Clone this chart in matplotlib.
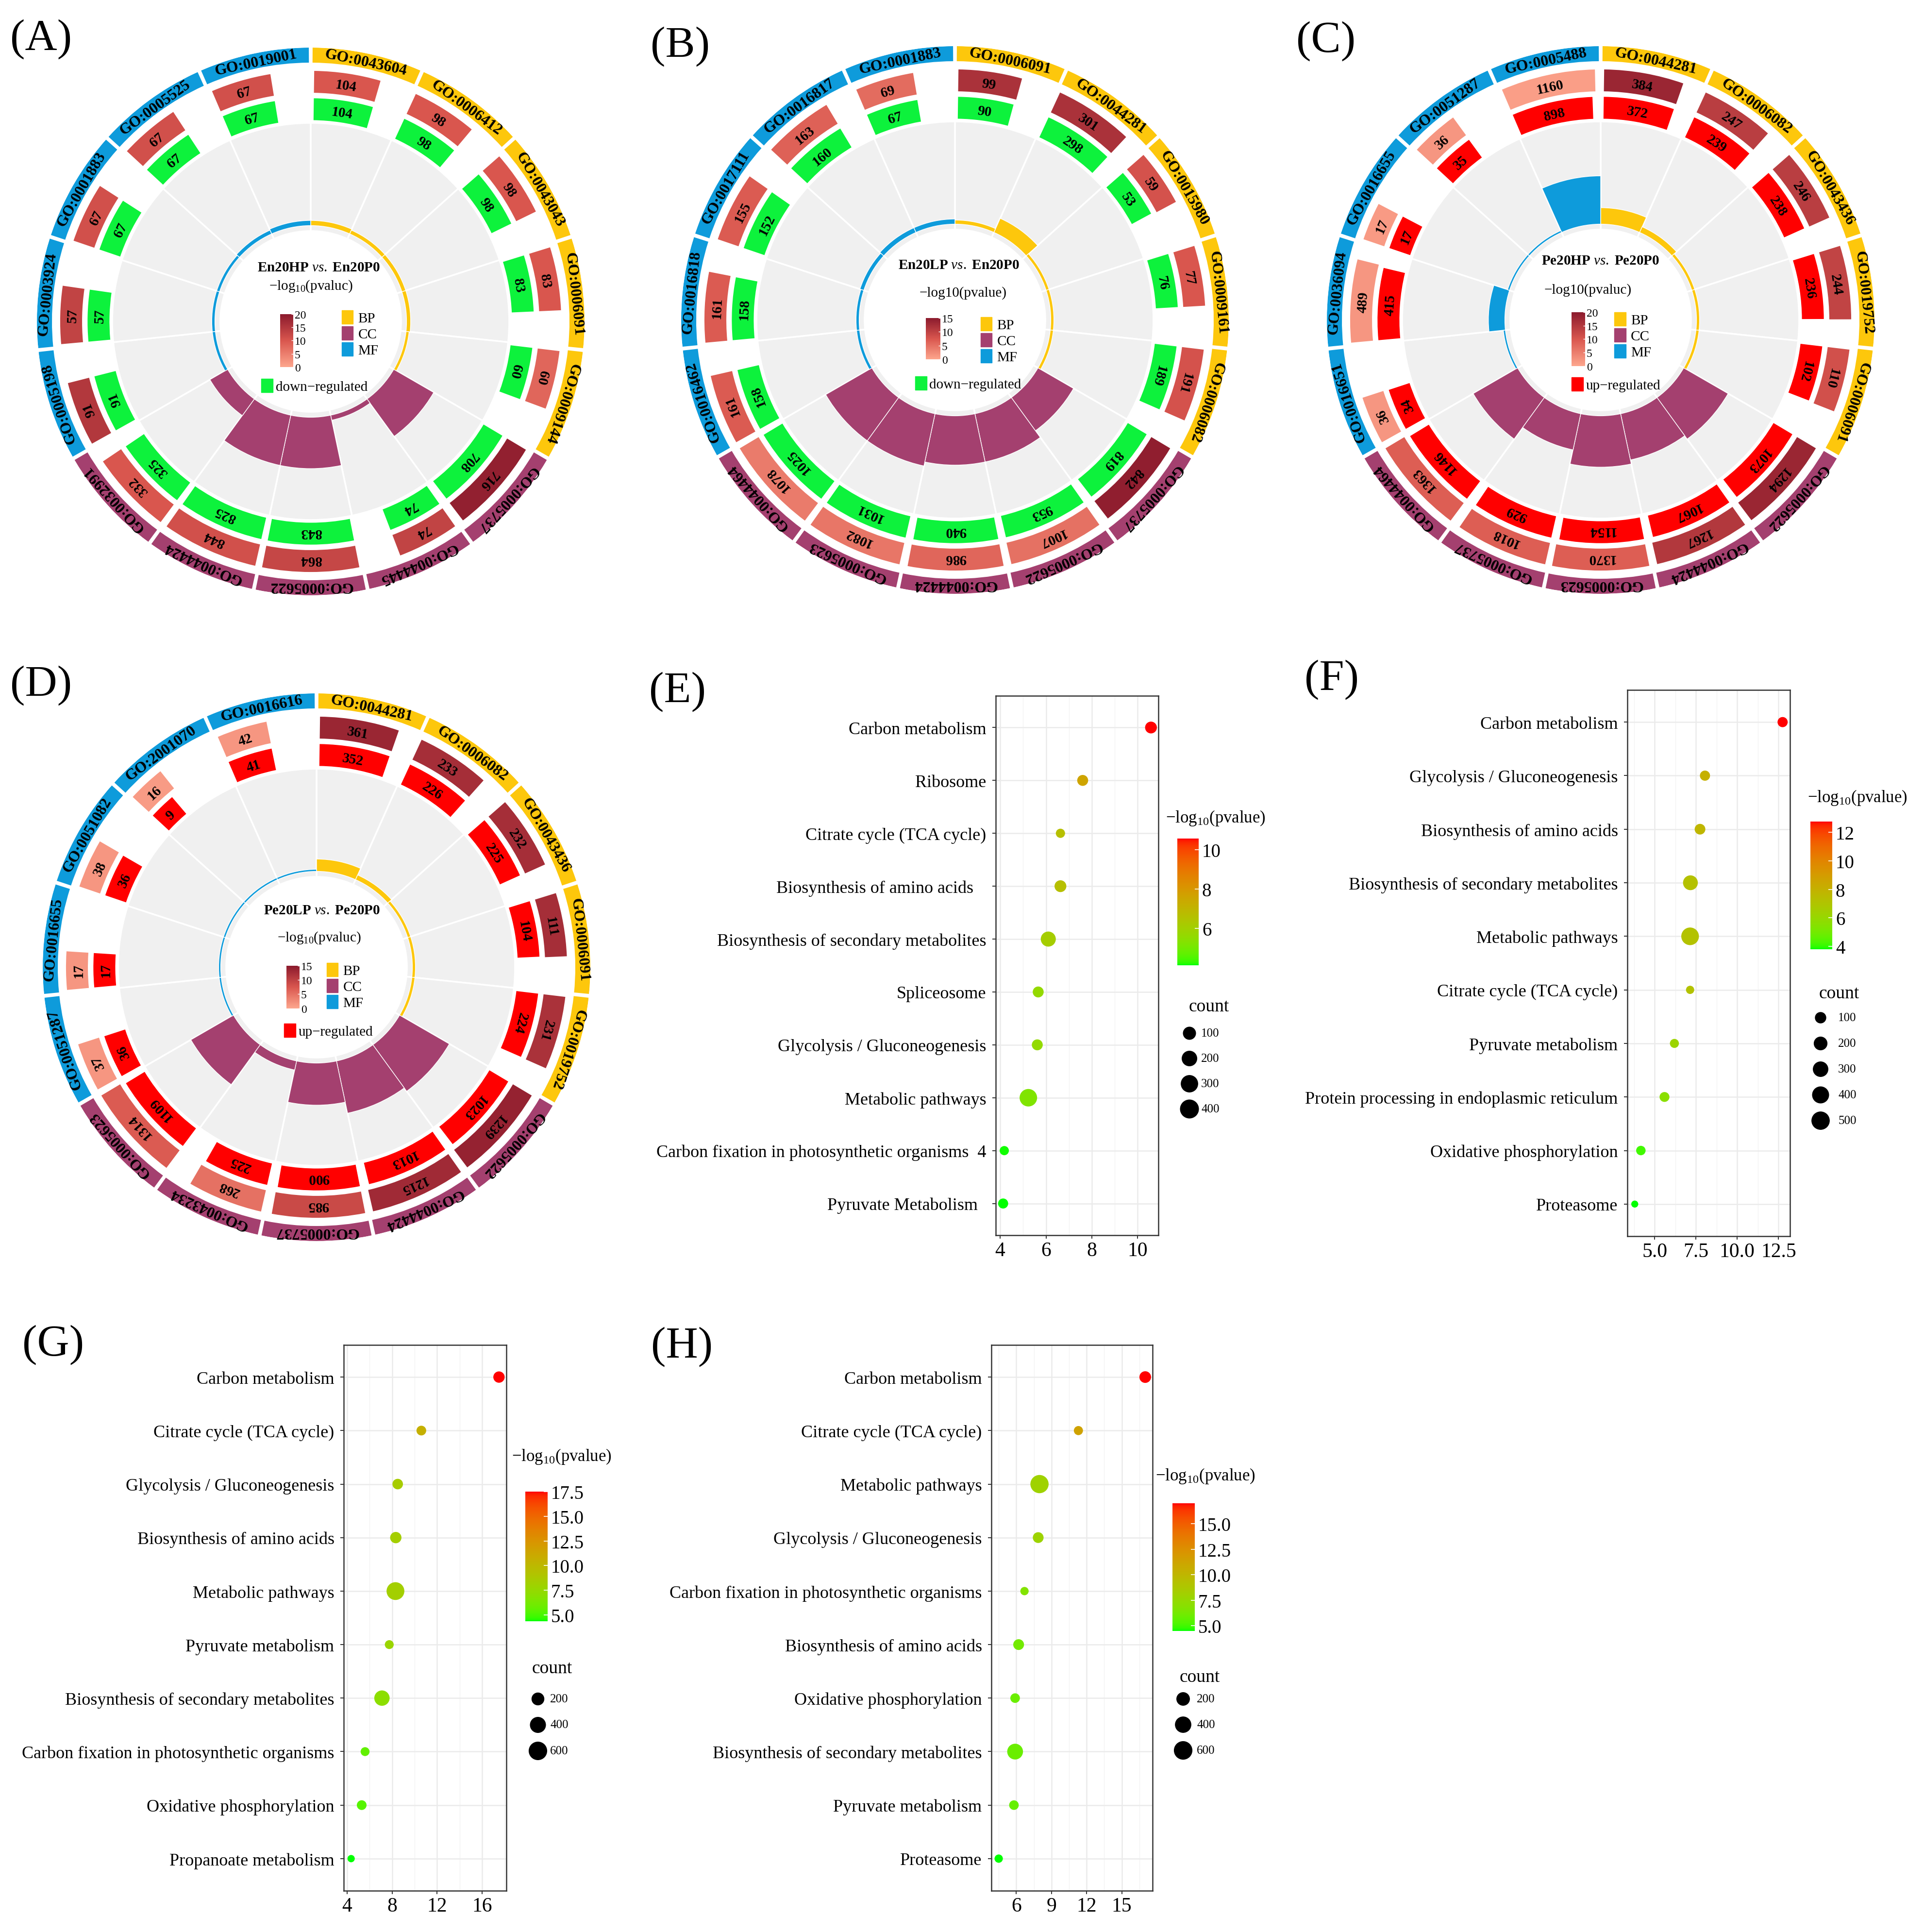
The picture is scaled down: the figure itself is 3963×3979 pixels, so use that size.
import numpy as np
import matplotlib
matplotlib.use("Agg")
import matplotlib.pyplot as plt
from matplotlib.colors import LinearSegmentedColormap, ListedColormap, Normalize
from matplotlib.cm import ScalarMappable
from matplotlib.patches import Patch

FIG_W, FIG_H, DPI = 3963, 3980, 100

plt.rcParams["font.family"] = ["Liberation Serif", "DejaVu Serif"]
plt.rcParams["mathtext.fontset"] = "custom"
plt.rcParams["mathtext.rm"] = "Liberation Serif"
plt.rcParams["mathtext.it"] = "Liberation Serif:italic"
plt.rcParams["mathtext.bf"] = "Liberation Serif:bold"

# ---------------- GO circle data (sectors clockwise from 12 o'clock) ----------------
CATEGORY = ["BP"] * 5 + ["CC"] * 5 + ["MF"] * 5

A_terms = ["GO:0043604", "GO:0006412", "GO:0043043", "GO:0006091", "GO:0009144",
           "GO:0005737", "GO:0044445", "GO:0005622", "GO:0044424", "GO:0032991",
           "GO:0005198", "GO:0003924", "GO:0001883", "GO:0005525", "GO:0019001"]
A_total = [104, 98, 98, 83, 60, 716, 74, 864, 844, 332, 91, 57, 67, 67, 67]
A_diff = [104, 98, 98, 83, 60, 708, 74, 843, 825, 325, 91, 57, 67, 67, 67]
A_logp = [10, 10, 10, 10, 8, 19, 13, 12.5, 11, 10, 15, 13, 11, 11, 11]
A_rich = [0.05, 0.04, 0.04, 0.04, 0.03, 0.45, 0.05, 0.5, 0.5, 0.2, 0.03, 0.03, 0.03, 0.04, 0.05]

B_terms = ["GO:0006091", "GO:0044281", "GO:0015980", "GO:0009161", "GO:0006082",
           "GO:0005737", "GO:0005622", "GO:0044424", "GO:0005623", "GO:0044464",
           "GO:0016462", "GO:0016818", "GO:0017111", "GO:0016817", "GO:0001883"]
B_total = [99, 301, 59, 77, 191, 842, 1007, 986, 1082, 1078, 161, 161, 155, 163, 69]
B_diff = [90, 298, 53, 76, 189, 819, 953, 940, 1031, 1025, 158, 158, 152, 160, 67]
B_logp = [12, 12, 8, 7.5, 8, 14.5, 5, 6, 4.5, 4, 7, 7, 7, 6.5, 5.5]
B_rich = [0.04, 0.15, 0.03, 0.03, 0.03, 0.4, 0.48, 0.48, 0.52, 0.52, 0.03, 0.03, 0.04, 0.05, 0.05]

C_terms = ["GO:0044281", "GO:0006082", "GO:0043436", "GO:0019752", "GO:0006091",
           "GO:0005622", "GO:0044424", "GO:0005623", "GO:0005737", "GO:0044464",
           "GO:0016651", "GO:0036094", "GO:0016655", "GO:0051287", "GO:0005488"]
C_total = [384, 247, 246, 244, 110, 1294, 1267, 1370, 1018, 1363, 36, 489, 17, 36, 1160]
C_diff = [372, 239, 238, 236, 102, 1073, 1067, 1154, 929, 1146, 34, 415, 17, 35, 898]
C_logp = [18, 14, 14, 13, 11, 18, 15, 9, 9, 9, 2, 2, 1.5, 2, 1]
C_rich = [0.16, 0.06, 0.03, 0.03, 0.03, 0.5, 0.46, 0.5, 0.36, 0.5, 0.02, 0.16, 0.02, 0.02, 0.47]

D_terms = ["GO:0044281", "GO:0006082", "GO:0043436", "GO:0006091", "GO:0019752",
           "GO:0005622", "GO:0044424", "GO:0005737", "GO:0043234", "GO:0005623",
           "GO:0051287", "GO:0016655", "GO:0051082", "GO:2001070", "GO:0016616"]
D_total = [361, 233, 232, 111, 231, 1239, 1215, 985, 268, 1314, 37, 17, 38, 16, 42]
D_diff = [352, 226, 225, 104, 224, 1023, 1013, 900, 225, 1109, 36, 17, 36, 9, 41]
D_logp = [13.5, 12.5, 12.5, 12.5, 12, 14, 13, 9, 5, 7, 1.5, 1.5, 1.5, 1, 1.5]
D_rich = [0.12, 0.05, 0.03, 0.03, 0.03, 0.56, 0.52, 0.41, 0.09, 0.48, 0.02, 0.02, 0.02, 0.02, 0.02]

# ---------------- KEGG bubble data ----------------
E_terms = ["Carbon metabolism", "Ribosome", "Citrate cycle (TCA cycle)",
           "Biosynthesis of amino acids   ", "Biosynthesis of secondary metabolites",
           "Spliceosome", "Glycolysis / Gluconeogenesis", "Metabolic pathways",
           "Carbon fixation in photosynthetic organisms  4", "Pyruvate Metabolism  "]
E_logp = [10.58, 7.6, 6.63, 6.63, 6.1, 5.66, 5.62, 5.23, 4.18, 4.13]
E_count = [80, 55, 20, 80, 210, 55, 55, 350, 20, 35]

F_terms = ["Carbon metabolism", "Glycolysis / Gluconeogenesis", "Biosynthesis of amino acids",
           "Biosynthesis of secondary metabolites", "Metabolic pathways",
           "Citrate cycle (TCA cycle)", "Pyruvate metabolism",
           "Protein processing in endoplasmic reticulum", "Oxidative phosphorylation", "Proteasome"]
F_logp = [12.75, 8.05, 7.75, 7.17, 7.15, 7.15, 6.2, 5.6, 4.17, 3.8]
F_count = [82, 82, 100, 300, 500, 32, 50, 73, 61, 12]

G_terms = ["Carbon metabolism", "Citrate cycle (TCA cycle)", "Glycolysis / Gluconeogenesis",
           "Biosynthesis of amino acids", "Metabolic pathways", "Pyruvate metabolism",
           "Biosynthesis of secondary metabolites", "Carbon fixation in photosynthetic organisms",
           "Oxidative phosphorylation", "Propanoate metabolism"]
G_logp = [17.5, 10.6, 8.5, 8.33, 8.3, 7.75, 7.1, 5.6, 5.3, 4.36]
G_count = [160, 94, 125, 160, 600, 67, 400, 67, 94, 28]

H_terms = ["Carbon metabolism", "Citrate cycle (TCA cycle)", "Metabolic pathways",
           "Glycolysis / Gluconeogenesis", "Carbon fixation in photosynthetic organisms",
           "Biosynthesis of amino acids", "Oxidative phosphorylation",
           "Biosynthesis of secondary metabolites", "Pyruvate metabolism", "Proteasome"]
H_logp = [17.0, 11.3, 7.98, 7.87, 6.7, 6.2, 5.9, 5.9, 5.8, 4.5]
H_count = [135, 40, 640, 96, 22, 96, 53, 408, 53, 22]

# ---------------- styles ----------------
CAT_COLORS = {"BP": "#FDC70C", "CC": "#A4406F", "MF": "#0E9BDB"}
DOWN_GREEN = "#0DF23C"
UP_RED = "#FF0000"
PV_CMAP = LinearSegmentedColormap.from_list("pv", ["#FDA68D", "#D9564E", "#8B1A2D"])

RADIUS = 564
R_RING = (0.945, 1.0)
R_TOTAL = (0.835, 0.915)
R_DIFF = (0.735, 0.815)
R_GREY = (0.33, 0.725)
R_INNER = 0.35


def srgb_to_lab(rgb):
    rgb = np.asarray(rgb, float)
    lin = np.where(rgb <= 0.04045, rgb / 12.92, ((rgb + 0.055) / 1.055) ** 2.4)
    M = np.array([[0.4124, 0.3576, 0.1805], [0.2126, 0.7152, 0.0722], [0.0193, 0.1192, 0.9505]])
    xyz = M @ lin / np.array([0.95047, 1.0, 1.08883])
    f = np.where(xyz > (6 / 29) ** 3, np.cbrt(xyz), xyz / (3 * (6 / 29) ** 2) + 4 / 29)
    return np.array([116 * f[1] - 16, 500 * (f[0] - f[1]), 200 * (f[1] - f[2])])


def lab_to_srgb(lab):
    L, a, b = lab
    fy = (L + 16) / 116
    fx, fz = fy + a / 500, fy - b / 200
    finv = lambda f: np.where(f > 6 / 29, f ** 3, 3 * (6 / 29) ** 2 * (f - 4 / 29))
    xyz = np.array([finv(fx) * 0.95047, finv(fy), finv(fz) * 1.08883])
    M = np.array([[0.4124, 0.3576, 0.1805], [0.2126, 0.7152, 0.0722], [0.0193, 0.1192, 0.9505]])
    lin = np.clip(np.linalg.inv(M) @ xyz, 0, 1)
    rgb = np.where(lin <= 0.0031308, 12.92 * lin, 1.055 * lin ** (1 / 2.4) - 0.055)
    return np.clip(rgb, 0, 1)


# green -> red interpolated in CIELAB (like ggplot's scale_color_gradient)
t = np.linspace(0, 1, 256)
lab_lo, lab_hi = srgb_to_lab([0, 1, 0]), srgb_to_lab([1, 0, 0])
GR_CMAP = ListedColormap(lab_to_srgb(lab_lo[:, None] * (1 - t) + lab_hi[:, None] * t).T)


def px_rect(x0, y0, x1, y1):
    return [x0 / FIG_W, 1 - y1 / FIG_H, (x1 - x0) / FIG_W, (y1 - y0) / FIG_H]


def fig_xy(x, y):
    return x / FIG_W, 1 - y / FIG_H


def go_circle(fig, center, terms, total, diff, logp, rich, pmax, diff_color, diff_label,
              title, subtitle, lay):
    cx, cy = center
    ax = fig.add_axes(px_rect(cx - RADIUS, cy - RADIUS, cx + RADIUS, cy + RADIUS),
                      projection="polar")
    ax.set_theta_zero_location("N")
    ax.set_theta_direction(-1)
    n = len(terms)
    step = 2 * np.pi / n
    start = np.arange(n) * step
    mid = start + step / 2
    colors = [CAT_COLORS[c] for c in CATEGORY]

    # grey sectors with the inner category bars
    ax.bar(start, R_GREY[1] - R_GREY[0], width=step, bottom=R_GREY[0], align="edge",
           color="#F0F0F0", edgecolor="white", linewidth=2.5)
    ax.bar(start, np.array(rich) * (R_GREY[1] - R_INNER), width=step, bottom=R_INNER,
           align="edge", color=colors, edgecolor="white", linewidth=1.0)

    # outer category ring
    gap = np.deg2rad(0.4)
    ax.bar(start + gap, R_RING[1] - R_RING[0], width=step - 2 * gap, bottom=R_RING[0],
           align="edge", color=colors, linewidth=0)
    for a, term in zip(mid, terms):
        ax.text(a, sum(R_RING) / 2, term, rotation=-np.degrees(a), rotation_mode="anchor",
                ha="center", va="center_baseline", fontsize=23, fontweight="bold")

    # count tracks, bar length on a log scale
    pad = np.deg2rad(0.8)
    lmax = np.log(max(total))
    norm = Normalize(0, pmax)
    tracks = ((total, R_TOTAL, PV_CMAP(norm(np.array(logp)))), (diff, R_DIFF, diff_color))
    for vals, (r0, r1), col in tracks:
        w = np.log(vals) / lmax * (step - 2 * pad)
        ax.bar(start + pad, r1 - r0, width=w, bottom=r0, align="edge", color=col, linewidth=0)
        for a, v in zip(start + pad + w / 2, vals):
            ax.text(a, (r0 + r1) / 2, str(v), rotation=-np.degrees(a), rotation_mode="anchor",
                    ha="center", va="center_baseline", fontsize=21, fontweight="bold")
    ax.set_ylim(0, 1)
    ax.set_axis_off()

    def axc(dx, dy):
        return 0.5 + 0.5 * dx, 0.5 + 0.5 * dy

    ax.text(*axc(*lay["title"]), title, transform=ax.transAxes, ha="center", va="center",
            fontsize=21)
    ax.text(*axc(*lay["sub"]), subtitle, transform=ax.transAxes, ha="center", va="center",
            fontsize=21)

    x0, x1, y0, y1 = lay["cbar"]
    cax = fig.add_axes(px_rect(cx + x0 * RADIUS, cy - y1 * RADIUS,
                               cx + x1 * RADIUS, cy - y0 * RADIUS))
    cb = fig.colorbar(ScalarMappable(norm, PV_CMAP), cax=cax, ticks=np.arange(0, pmax + 1, 5))
    cb.outline.set_visible(False)
    cax.tick_params(labelsize=17, length=3, width=1, color="white", direction="in", pad=2)

    handles = [Patch(color=CAT_COLORS[k]) for k in ("BP", "CC", "MF")]
    leg = ax.legend(handles, ["BP", "CC", "MF"], loc="upper left",
                    bbox_to_anchor=axc(*lay["cat"]), frameon=False, fontsize=21,
                    handlelength=0.8, handleheight=1.1, handletextpad=0.35,
                    labelspacing=0.1, borderpad=0, borderaxespad=0)
    ax.add_artist(leg)
    ax.legend([Patch(color=diff_color)], [diff_label], loc="center left",
              bbox_to_anchor=axc(*lay["reg"]), frameon=False, fontsize=21,
              handlelength=0.8, handleheight=1.1, handletextpad=0.2,
              borderpad=0, borderaxespad=0)


def marker_area(counts, a, b):
    d_px = a + b * np.sqrt(np.asarray(counts, float))
    return (d_px * 72 / DPI) ** 2


def dot_plot(fig, box, terms, logp, counts, size_ab, xticks, xticklabels,
             cbar_box, cbar_ticks, cbar_labels, title_xy, count_xy, key_x, key_label_x,
             key_y0, key_step, key_values):
    ax = fig.add_axes(px_rect(*box))
    n = len(terms)
    y = np.arange(n)
    norm = Normalize(min(logp), max(logp))
    ax.scatter(logp, y, s=marker_area(counts, *size_ab), c=logp, cmap=GR_CMAP, norm=norm,
               linewidths=0, zorder=3)
    ax.margins(x=0.05)
    ax.set_ylim(n - 0.4, -0.6)
    lo, hi = ax.get_xlim()
    ax.set_yticks(y, terms)
    ax.set_xticks(xticks, xticklabels)
    d = xticks[1] - xticks[0]
    minor = np.arange(xticks[0] - d / 2, xticks[-1] + d, d)
    ax.set_xticks(minor[(minor > lo) & (minor < hi)], minor=True)
    ax.set_xlim(lo, hi)
    ax.grid(True, which="major", color="#EBEBEB", linewidth=1.8)
    ax.grid(True, which="minor", axis="x", color="#F3F3F3", linewidth=1.0)
    ax.set_axisbelow(True)
    ax.tick_params(axis="y", labelsize=26, length=5, width=1.4, color="#333333", pad=9)
    ax.tick_params(axis="x", which="major", labelsize=30, length=5, width=1.4,
                   color="#333333", pad=4)
    ax.tick_params(which="minor", length=0)
    for sp in ax.spines.values():
        sp.set_color("#333333")
        sp.set_linewidth(1.8)

    cax = fig.add_axes(px_rect(*cbar_box))
    cb = fig.colorbar(ScalarMappable(norm, GR_CMAP), cax=cax, ticks=cbar_ticks)
    cb.ax.set_yticklabels(cbar_labels)
    cb.outline.set_visible(False)
    cax.tick_params(labelsize=28, length=6, width=1.2, color="white", direction="in", pad=5)
    fig.text(*fig_xy(*title_xy), "\u2212log$_{10}$(pvalue)", fontsize=25, ha="left",
             va="center")
    fig.text(*fig_xy(*count_xy), "count", fontsize=27, ha="center", va="center")

    m = len(key_values)
    kax = fig.add_axes(px_rect(key_x - 40, key_y0 - key_step / 2, key_x + 160,
                               key_y0 + key_step * (m - 0.5)))
    kax.scatter(np.zeros(m), np.arange(m), s=marker_area(key_values, *size_ab), color="black")
    kax.set_xlim(-40, 160)
    kax.set_ylim(m - 0.5, -0.5)
    for i, v in enumerate(key_values):
        kax.text(key_label_x - key_x, i, str(v), fontsize=18, ha="left", va="center")
    kax.axis("off")


fig = plt.figure(figsize=(FIG_W / DPI, FIG_H / DPI), dpi=DPI)

go_circle(fig, (640, 663), A_terms, A_total, A_diff, A_logp, A_rich, 20, DOWN_GREEN,
          "down\u2212regulated", r"$\mathbf{En20HP}\ \mathit{vs.}\ \mathbf{En20P0}$",
          "\u2212log$_{10}$(pvaluc)",
          dict(title=(0.03, 0.197), sub=(0.0, 0.13), cbar=(-0.112, -0.064, -0.167, 0.027),
               cat=(0.113, 0.04), reg=(-0.18, -0.236)))
go_circle(fig, (1967, 660), B_terms, B_total, B_diff, B_logp, B_rich, 15, DOWN_GREEN,
          "down\u2212regulated", r"$\mathbf{En20LP}\ \mathit{vs.}\ \mathbf{En20P0}$",
          "\u2212log10(pvalue)",
          dict(title=(0.014, 0.2), sub=(0.03, 0.10), cbar=(-0.106, -0.053, -0.144, 0.007),
               cat=(0.094, 0.01), reg=(-0.145, -0.232)))
go_circle(fig, (3297, 660), C_terms, C_total, C_diff, C_logp, C_rich, 20, UP_RED,
          "up\u2212regulated", r"$\mathbf{Pe20HP}\ \mathit{vs.}\ \mathbf{Pe20P0}$",
          "\u2212log10(pvaluc)",
          dict(title=(0.0, 0.216), sub=(-0.046, 0.11), cbar=(-0.106, -0.057, -0.168, 0.028),
               cat=(0.05, 0.028), reg=(-0.106, -0.236)))
go_circle(fig, (652, 1993), D_terms, D_total, D_diff, D_logp, D_rich, 15, UP_RED,
          "up\u2212regulated", r"$\mathbf{Pe20LP}\ \mathit{vs.}\ \mathbf{Pe20P0}$",
          "\u2212log$_{10}$(pvaluc)",
          dict(title=(0.02, 0.207), sub=(0.01, 0.108), cbar=(-0.11, -0.062, -0.15, 0.005),
               cat=(0.037, 0.016), reg=(-0.118, -0.232)))

dot_plot(fig, (2051, 1434, 2386, 2545), E_terms, E_logp, E_count, (13.6, 1.2),
         [4, 6, 8, 10], ["4", "6", "8", "10"], (2425, 1728, 2469, 1989),
         [6, 8, 10], ["6", "8", "10"], (2401, 1685), (2490, 2074), 2450, 2474, 2129, 52,
         [100, 200, 300, 400])
dot_plot(fig, (3352, 1422, 3687, 2547), F_terms, F_logp, F_count, (10.4, 1.16),
         [5, 7.5, 10, 12.5], ["5.0", "7.5", "10.0", "12.5"], (3729, 1693, 3774, 1956),
         [4, 6, 8, 10, 12], ["4", "6", "8", "10", "12"], (3723, 1643), (3788, 2047),
         3750, 3786, 2097, 53, [100, 200, 300, 400, 500])
dot_plot(fig, (708, 2771, 1043, 3895), G_terms, G_logp, G_count, (9.1, 1.125),
         [4, 8, 12, 16], ["4", "8", "12", "16"], (1082, 3073, 1128, 3340),
         [5, 7.5, 10, 12.5, 15, 17.5], ["5.0", "7.5", "10.0", "12.5", "15.0", "17.5"],
         (1054, 3000), (1137, 3437), 1108, 1133, 3500, 53.5, [200, 400, 600])
dot_plot(fig, (2042, 2771, 2374, 3895), H_terms, H_logp, H_count, (12.5, 0.99),
         [6, 9, 12, 15], ["6", "9", "12", "15"], (2415, 3097, 2461, 3360),
         [5, 7.5, 10, 12.5, 15], ["5.0", "7.5", "10.0", "12.5", "15.0"],
         (2380, 3040), (2471, 3455), 2437, 2465, 3500, 53, [200, 400, 600])

for lab, (x, y) in {"(A)": (21, 81), "(B)": (1340, 96), "(C)": (2670, 85), "(D)": (21, 1412),
                    "(E)": (1337, 1425), "(F)": (2687, 1400), "(G)": (46, 2770),
                    "(H)": (1341, 2774)}.items():
    fig.text(*fig_xy(x, y), lab, fontsize=66, ha="left", va="center")

fig.savefig("out.png", dpi=DPI)
